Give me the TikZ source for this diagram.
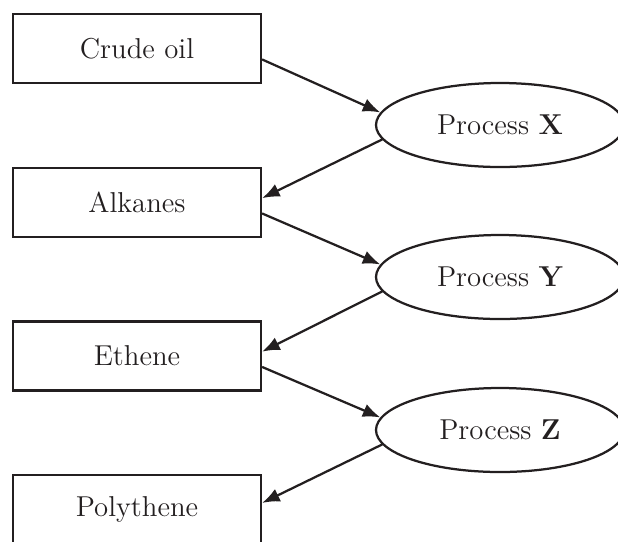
\documentclass[tikz,border=0pt]{standalone}
\usepackage{amssymb}
\usepackage{tikz}
\usetikzlibrary{shapes.geometric,arrows.meta}
\definecolor{ink}{HTML}{231F20}

\begin{document}
\begin{tikzpicture}[x=0.4pt,y=-0.4pt,line width=0.9pt,ink,
  b/.style={draw,rectangle,minimum width=99.2pt,minimum height=27.6pt,inner sep=0pt,font=\fontsize{11.5}{13}\selectfont},
  e/.style={draw,ellipse,minimum width=99.2pt,minimum height=33.6pt,inner sep=0pt,font=\fontsize{11.5}{13}\selectfont},
  >={Latex[length=7pt,width=5.5pt]}]
  \useasboundingbox (0,0) rectangle (618,541);
  \node(1) at (137,48.5)[b]{Crude oil};
  \node(2) at (500,125)[e]{Process \textbf{X}};
  \node(3) at (137,202.5)[b]{Alkanes};
  \node(4) at (500,277)[e]{Process \textbf{Y}};
  \node(5) at (137,356)[b]{Ethene};
  \node(6) at (500,430)[e]{Process \textbf{Z}};
  \node(7) at (137,509.5)[b]{Polythene};
  % box -> process
  \draw(1.-5.5) edge[->] (2.174.5);
  \draw(3.-5.5) edge[->] (4.174.5);
  \draw(5.-5.5) edge[->] (6.174.5);
  % process -> box
  \draw(2.187.5) edge[->] (3.2.5);
  \draw(4.187.5) edge[->] (5.2.5);
  \draw(6.187.5) edge[->] (7.3);
\end{tikzpicture}
\end{document}
